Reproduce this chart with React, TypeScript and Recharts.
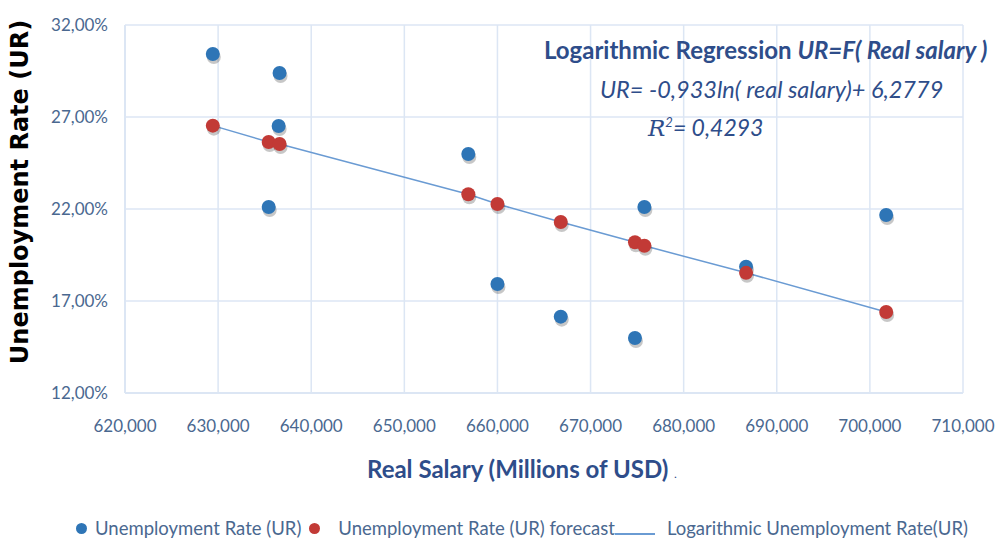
import React from 'react';
import { ComposedChart, Scatter, XAxis, YAxis, CartesianGrid } from 'recharts';

// Real salary (millions of USD) for each observation
const salary = [629430, 636600, 636500, 635430, 656870, 660000, 666800, 674770, 675780, 686700, 701750];
// Observed unemployment rate (%)
const rateActual = [30.42, 29.39, 26.51, 22.11, 24.99, 17.92, 16.15, 14.99, 22.11, 18.86, 21.67];

// Forecast points from the log regression
const forecastSalary = [629430, 635430, 636600, 656870, 660000, 666800, 674770, 675780, 686700, 701750];
const rateForecast = [26.53, 25.64, 25.53, 22.8, 22.27, 21.29, 20.19, 20.0, 18.53, 16.4];

const xTicks = [620000, 630000, 640000, 650000, 660000, 670000, 680000, 690000, 700000, 710000];
const yTicks = [12, 17, 22, 27, 32];

const actualData = salary.map((x, i) => ({ x, y: rateActual[i] }));
const forecastData = forecastSalary.map((x, i) => ({ x, y: rateForecast[i] }));

const BLUE = '#2e75b6';
const RED = '#c23a36';
const GRID = '#dce6f4';
const TICK = '#4a6890';
const TITLE = '#2e4d8a';

const dot = (color: string) => (props: any) => {
  const { cx, cy } = props;
  return (
    <g>
      <circle cx={cx + 1} cy={cy + 3} r={7} fill="rgba(0,0,0,0.22)" />
      <circle cx={cx} cy={cy} r={7} fill={color} />
    </g>
  );
};

const noDot = () => <g />;

const App: React.FC = () => {
  return (
    <div style={{ position: 'absolute', left: 0, top: 0, width: 997, height: 542, background: '#fff', fontFamily: 'Lato, sans-serif' }}>
      <ComposedChart width={997} height={542} margin={{ top: 25, right: 34, left: 0, bottom: 0 }}>
        <CartesianGrid stroke={GRID} strokeWidth={1.5} />
        <XAxis
          type="number"
          dataKey="x"
          domain={[620000, 710000]}
          ticks={xTicks}
          height={149}
          tickLine={false}
          tickSize={0}
          tickMargin={27}
          axisLine={{ stroke: GRID, strokeWidth: 2 }}
          tick={{ fill: TICK, fontSize: 17, fontFamily: 'Lato' }}
          tickFormatter={(v: number) => v.toLocaleString('en-US')}
        />
        <YAxis
          type="number"
          dataKey="y"
          domain={[12, 32]}
          ticks={yTicks}
          width={125}
          tickLine={false}
          tickSize={0}
          tickMargin={17}
          axisLine={{ stroke: GRID, strokeWidth: 2 }}
          tick={{ fill: TICK, fontSize: 17, fontFamily: 'Lato' }}
          tickFormatter={(v: number) => v.toFixed(2).replace('.', ',') + '%'}
        />
        <Scatter data={actualData} fill={BLUE} shape={dot(BLUE)} isAnimationActive={false} />
        <Scatter
          data={forecastData}
          line={{ stroke: '#6a9bd3', strokeWidth: 1.5 }}
          shape={noDot}
          isAnimationActive={false}
        />
        <Scatter data={forecastData} fill={RED} shape={dot(RED)} isAnimationActive={false} />
      </ComposedChart>

      {/* y axis title */}
      <div style={{ position: 'absolute', left: 20, top: 192, transform: 'translate(-50%, -50%) rotate(-90deg)', whiteSpace: 'nowrap', fontFamily: '"DejaVu Sans", sans-serif', fontWeight: 'bold', fontSize: 24, color: '#000' }}>
        Unemployment Rate (UR)
      </div>

      {/* x axis title */}
      <div style={{ position: 'absolute', left: 367, top: 454, whiteSpace: 'nowrap', fontWeight: 'bold', fontSize: 24, color: TITLE }}>
        Real Salary (Millions of USD) <span style={{ fontSize: 10 }}>.</span>
      </div>

      {/* regression annotation */}
      <div style={{ position: 'absolute', left: 544, top: 35, whiteSpace: 'nowrap', fontWeight: 'bold', fontSize: 24, color: TITLE }}>
        Logarithmic Regression <i>UR=F( Real salary )</i>
      </div>
      <div style={{ position: 'absolute', left: 600, top: 75, whiteSpace: 'nowrap', fontStyle: 'italic', fontSize: 23.5, color: TITLE }}>
        UR= -0,933ln( real salary)+ 6,2779
      </div>
      <div style={{ position: 'absolute', left: 648, top: 113, whiteSpace: 'nowrap', fontStyle: 'italic', fontSize: 23, color: TITLE }}>
        <span style={{ fontFamily: '"DejaVu Serif", serif' }}>R</span><sup style={{ fontSize: 13 }}>2</sup>= 0,4293
      </div>

      {/* legend */}
      <div style={{ position: 'absolute', left: 76, top: 517, display: 'flex', alignItems: 'center', whiteSpace: 'nowrap', fontSize: 18.5, color: TICK }}>
        <span style={{ display: 'inline-block', width: 11, height: 11, borderRadius: '50%', background: BLUE, marginRight: 8 }} />
        <span>Unemployment Rate (UR)</span>
        <span style={{ display: 'inline-block', width: 11, height: 11, borderRadius: '50%', background: RED, marginLeft: 8, marginRight: 18 }} />
        <span>Unemployment Rate (UR) forecast</span>
        <span style={{ display: 'inline-block', width: 40, height: 2, background: '#6a9bd3', marginTop: 12, marginRight: 12 }} />
        <span>Logarithmic Unemployment Rate(UR)</span>
      </div>
    </div>
  );
};

export default App;
